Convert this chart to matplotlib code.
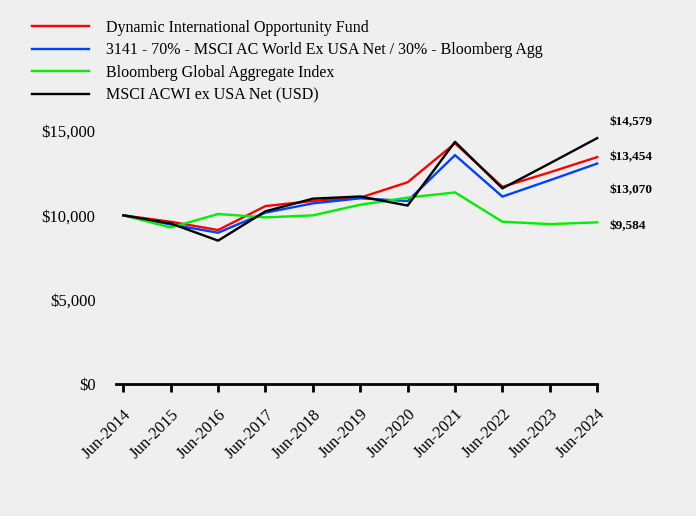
import matplotlib
matplotlib.use("Agg")
import matplotlib.pyplot as plt
from matplotlib.ticker import FuncFormatter

plt.rcParams['font.family'] = ['Liberation Serif', 'DejaVu Serif']

years = ["Jun-2014", "Jun-2015", "Jun-2016", "Jun-2017", "Jun-2018", "Jun-2019",
         "Jun-2020", "Jun-2021", "Jun-2022", "Jun-2023", "Jun-2024"]

fund = [10000, 9620, 9130, 10550, 10850, 11050, 11960, 14270, 11690, 12550, 13454]
blend = [10000, 9460, 8970, 10160, 10710, 11010, 10850, 13570, 11110, 12080, 13070]
bbg_agg = [10000, 9280, 10080, 9880, 10000, 10630, 11050, 11360, 9620, 9480, 9584]
acwi = [10000, 9520, 8500, 10240, 10990, 11120, 10580, 14360, 11600, 13080, 14579]

names = ["Dynamic International Opportunity Fund",
         "3141 - 70% - MSCI AC World Ex USA Net / 30% - Bloomberg Agg",
         "Bloomberg Global Aggregate Index",
         "MSCI ACWI ex USA Net (USD)"]
colors = ["#ff0000", "#0040ff", "#00ee00", "#000000"]

end_labels = ["$13,454", "$13,070", "$9,584", "$14,579"]
label_y = [13454, 11500, 9370, 15530]

bg = "#efefef"
fig = plt.figure(figsize=(6.96, 5.16), dpi=100, facecolor=bg)
ax = fig.add_axes([0.167, 0.2558, 0.691, 0.4903], facecolor=bg)

x = list(range(len(years)))
series = [fund, blend, bbg_agg, acwi]
handles = []
for vals, c, n in zip(series, colors, names):
    h, = ax.plot(x, vals, color=c, lw=1.7, label=n, clip_on=False)
    handles.append(h)

for vals, lab, ly in zip(series, end_labels, label_y):
    ax.text(10.25, ly, lab, fontsize=9.5, fontweight='bold', va='center', ha='left')

ax.set_xlim(-0.15, 10)
ax.set_ylim(0, 15000)
ax.set_yticks([0, 5000, 10000, 15000])
ax.yaxis.set_major_formatter(FuncFormatter(lambda v, p: "${:,.0f}".format(v)))
ax.set_xticks(x)
ax.set_xticklabels(years, rotation=45, ha='right', rotation_mode='anchor', fontsize=12)
ax.tick_params(axis='y', length=0, labelsize=12, pad=15)
ax.tick_params(axis='x', length=6, width=2, pad=10)
for s in ['top', 'right', 'left']:
    ax.spines[s].set_visible(False)
ax.spines['bottom'].set_linewidth(2)

fig.legend(handles=handles, loc='upper left', bbox_to_anchor=(0.025, 0.99),
           frameon=False, fontsize=11.5, handlelength=3.6, handletextpad=1.05,
           labelspacing=0.42)

fig.savefig("out.png", dpi=100, facecolor=bg)
